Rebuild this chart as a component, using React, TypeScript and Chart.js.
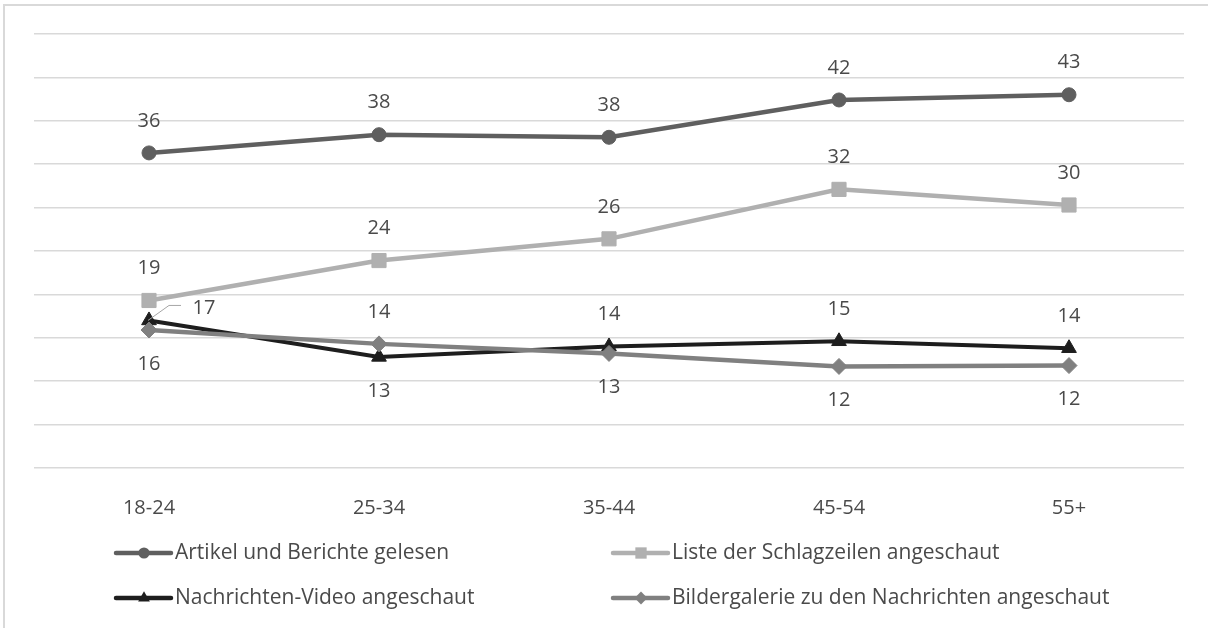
import React, { useEffect, useRef } from "react";
import { Chart, registerables } from "chart.js";

Chart.register(...registerables);

const categories = ["18-24", "25-34", "35-44", "45-54", "55+"];
const seriesNames = [
  "Artikel und Berichte gelesen",
  "Liste der Schlagzeilen angeschaut",
  "Nachrichten-Video angeschaut",
  "Bildergalerie zu den Nachrichten angeschaut",
];
const artikel = [36.3, 38.4, 38.1, 42.4, 43.0];
const liste = [19.3, 23.9, 26.4, 32.1, 30.3];
const video = [17.0, 12.8, 14.0, 14.6, 13.8];
const bilder = [15.9, 14.3, 13.2, 11.7, 11.8];

const artikelLabelPos = ["above", "above", "above", "above", "above"];
const listeLabelPos = ["above", "above", "above", "above", "above"];
const videoLabelPos = ["right", "below", "above", "above", "above"];
const bilderLabelPos = ["below", "above", "below", "below", "below"];

const yMin = 0;
const yMax = 50;
const yStep = 5;

const FONT = "'Open Sans'";
const TEXT = "#4a4a4a";

const colors = ["#5f5f5f", "#b0b0b0", "#1e1e1e", "#808080"];
const pointStyles = ["circle", "rect", "triangle", "rectRot"];
const pointRadii = [7, 10, 8.5, 8];
const labelPositions = [artikelLabelPos, listeLabelPos, videoLabelPos, bilderLabelPos];

const dataLabelPlugin = {
  id: "dataLabels",
  afterDatasetsDraw(chart: any) {
    const ctx = chart.ctx;
    ctx.save();
    ctx.font = `20px ${FONT}`;
    ctx.fillStyle = TEXT;
    ctx.textAlign = "center";
    ctx.textBaseline = "middle";
    chart.data.datasets.forEach((ds: any, di: number) => {
      const meta = chart.getDatasetMeta(di);
      meta.data.forEach((pt: any, i: number) => {
        const txt = String(Math.round(ds.data[i]));
        const pos = labelPositions[di][i];
        if (pos === "above") {
          ctx.fillText(txt, pt.x, pt.y - 32);
        } else if (pos === "below") {
          ctx.fillText(txt, pt.x, pt.y + 34);
        } else {
          ctx.save();
          ctx.strokeStyle = "#a6a6a6";
          ctx.lineWidth = 1;
          ctx.beginPath();
          ctx.moveTo(pt.x - 1, pt.y);
          ctx.lineTo(pt.x + 20, pt.y - 15);
          ctx.lineTo(pt.x + 32, pt.y - 15);
          ctx.stroke();
          ctx.restore();
          ctx.fillText(txt, pt.x + 55, pt.y - 12);
        }
      });
    });
    ctx.restore();
  },
};

const legendPlugin = {
  id: "customLegend",
  afterDraw(chart: any) {
    const ctx = chart.ctx;
    const cols = [116, 613];
    const rows = [553, 598];
    ctx.save();
    ctx.font = `21px ${FONT}`;
    ctx.textBaseline = "middle";
    ctx.textAlign = "left";
    chart.data.datasets.forEach((ds: any, di: number) => {
      const x = cols[di % 2];
      const y = rows[Math.floor(di / 2)];
      ctx.strokeStyle = colors[di];
      ctx.lineWidth = 4.5;
      ctx.lineCap = "round";
      ctx.beginPath();
      ctx.moveTo(x, y);
      ctx.lineTo(x + 55, y);
      ctx.stroke();
      ctx.fillStyle = colors[di];
      const r = pointRadii[di] * 0.8;
      const cx = x + 28;
      ctx.beginPath();
      if (pointStyles[di] === "circle") {
        ctx.arc(cx, y, r, 0, Math.PI * 2);
      } else if (pointStyles[di] === "rect") {
        const s = r * Math.SQRT1_2;
        ctx.rect(cx - s, y - s, 2 * s, 2 * s);
      } else if (pointStyles[di] === "triangle") {
        ctx.moveTo(cx, y - r);
        ctx.lineTo(cx + r * 0.866, y + r * 0.5);
        ctx.lineTo(cx - r * 0.866, y + r * 0.5);
        ctx.closePath();
      } else {
        ctx.moveTo(cx, y - r);
        ctx.lineTo(cx + r, y);
        ctx.lineTo(cx, y + r);
        ctx.lineTo(cx - r, y);
        ctx.closePath();
      }
      ctx.fill();
      ctx.fillStyle = TEXT;
      ctx.fillText(seriesNames[di], x + 59, y);
    });
    ctx.restore();
  },
};

export default function App() {
  const ref = useRef<HTMLCanvasElement | null>(null);
  useEffect(() => {
    if (!ref.current) return;
    const seriesData = [artikel, liste, video, bilder];
    const chart = new Chart(ref.current, {
      type: "line",
      data: {
        labels: categories,
        datasets: seriesData.map((d, i) => ({
          label: seriesNames[i],
          data: d,
          borderColor: colors[i],
          backgroundColor: colors[i],
          borderWidth: i === 2 ? 4 : 4.5,
          pointStyle: pointStyles[i] as any,
          pointRadius: pointRadii[i],
          pointBackgroundColor: colors[i],
          pointBorderColor: colors[i],
          pointBorderWidth: 1,
          tension: 0,
          order: 4 - i,
        })),
      },
      options: {
        responsive: false,
        animation: false,
        layout: { padding: { top: 34, left: 34, right: 24, bottom: 0 } },
        plugins: {
          legend: { display: false },
          tooltip: { enabled: false },
        },
        scales: {
          x: {
            offset: true,
            grid: { display: false },
            border: { display: false },
            ticks: {
              color: TEXT,
              font: { family: FONT, size: 20 },
              padding: 20,
            },
            afterFit(scale: any) {
              scale.height = 160;
            },
          },
          y: {
            min: yMin,
            max: yMax,
            ticks: { stepSize: yStep, display: false },
            grid: { color: "#d9d9d9", lineWidth: 1.5, drawTicks: false },
            border: { display: false },
          },
        },
      },
      plugins: [dataLabelPlugin, legendPlugin],
    });
    return () => chart.destroy();
  }, []);
  return (
    <div style={{ position: "fixed", left: 0, top: 0, width: 1208, height: 628, background: "#fff", overflow: "hidden" }}>
      <div
        style={{
          position: "absolute",
          left: 3,
          top: 4,
          width: 1300,
          height: 700,
          border: "2px solid #d9d9d9",
        }}
      />
      <canvas ref={ref} width={1208} height={628} style={{ position: "absolute", left: 0, top: 0 }} />
    </div>
  );
}
